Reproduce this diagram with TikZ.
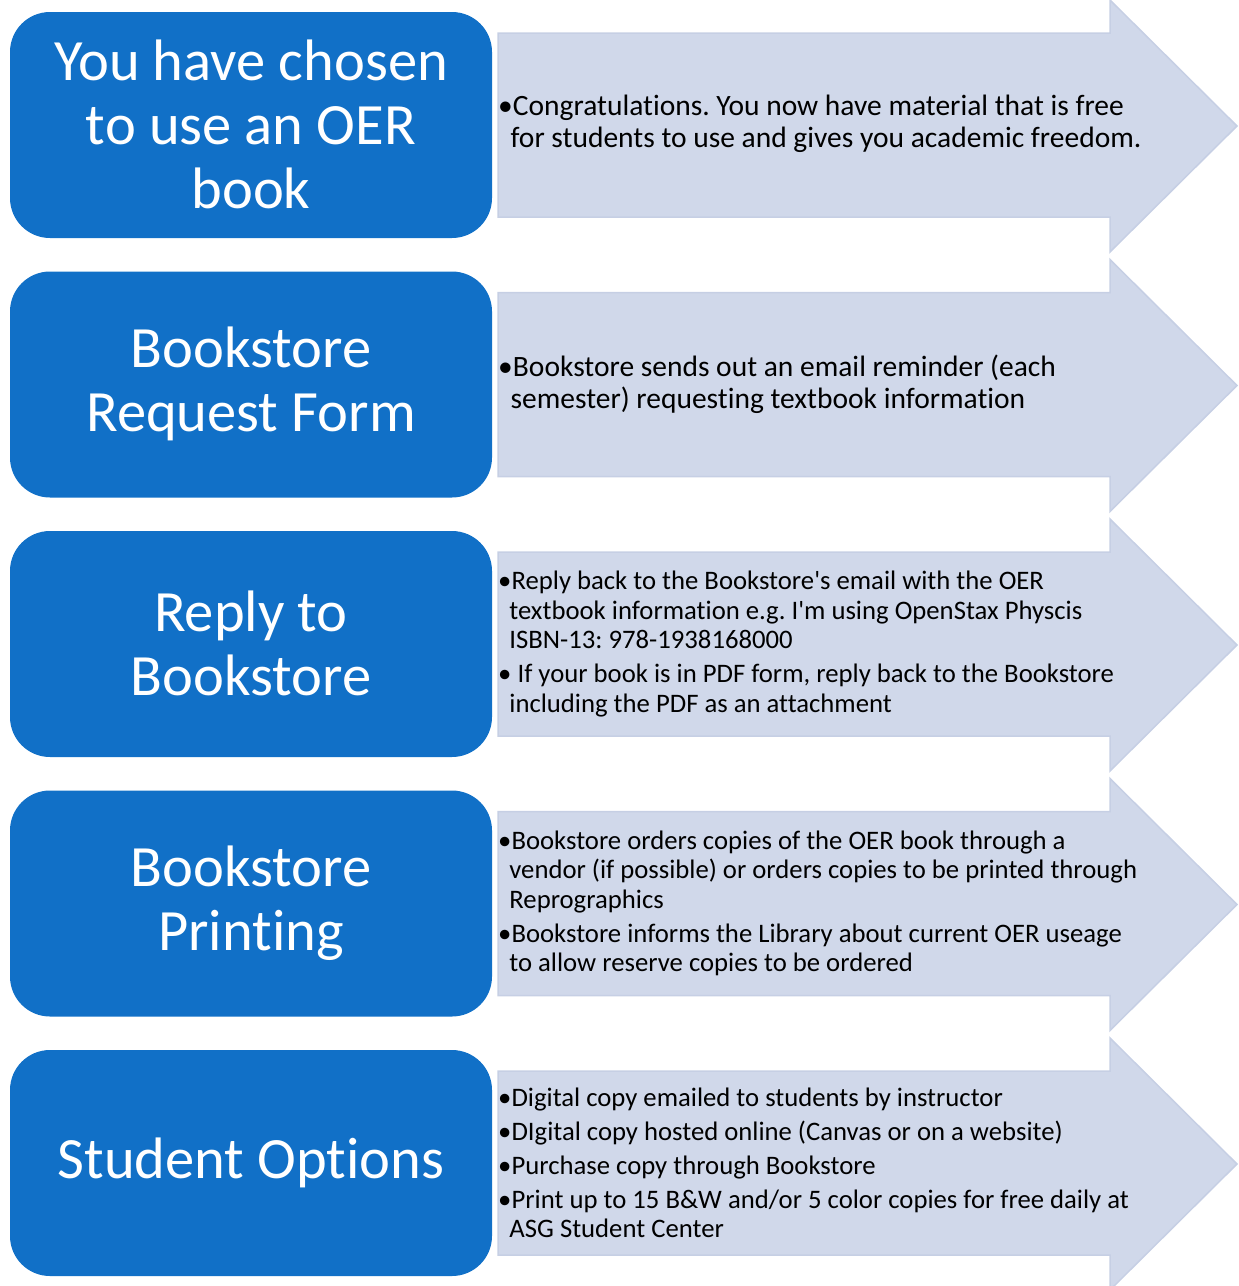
\documentclass[tikz,border=0pt]{standalone}
\usepackage{fontspec}
\setmainfont{Carlito}[Ligatures={TeX,NoCommon}]
\usepackage{tikz}
\usetikzlibrary{positioning}

\definecolor{boxblue}{RGB}{17,112,199}
\definecolor{arrowfill}{RGB}{208,216,234}
\definecolor{arrowline}{RGB}{198,207,228}

\newcommand{\bul}{\makebox[0.5em][l]{\textbullet}}
\newcommand{\ind}{\hspace*{0.42em}}
\frenchspacing

\begin{document}
\begin{tikzpicture}[x=1pt, y=-1pt,
  titlebox/.style={text=white, align=center, font=\fontsize{58.5}{64}\selectfont},
  infotext/.style={anchor=west, align=left, inner sep=0pt, font=\fontsize{26.7}{29.5}\selectfont},
  bigtext/.style={infotext, font=\fontsize{29.5}{32}\selectfont}]

\useasboundingbox (0,0) rectangle (1239,1286);

% arrows and blue boxes, one row each
\foreach \r in {0, 259.5, 519, 778.5, 1038}
{
\begin{scope}[shift={(0,\r)}]
\filldraw[fill=arrowfill, draw=arrowline, line width=1.5pt] (498,33) -- (1110,33) -- (1110,0) -- (1237,126) -- (1110,252) -- (1110,217) -- (498,217) -- cycle;
\fill[boxblue, rounded corners=40pt] (10,12) rectangle (492,238);
\end{scope}
}

% titles
\node[titlebox] (t1) at (251,124) {You have chosen\\to use an OER\\book};
\node[titlebox] (t2) at (251,384) {Bookstore\\Request Form};
\node[titlebox] (t3) at (251,643) {Reply to\\Bookstore};
\node[titlebox] (t4) at (251,903) {Bookstore\\Printing};
\node[titlebox] (t5) at (251,1163) {Student Options};

% bullet texts
\node[bigtext] (i1) at (498,124) {\bul Congratulations. You now have material that is free\\\ind for students to use and gives you academic freedom.};
\node[bigtext] (i2) at (498,384) {\bul Bookstore sends out an email reminder (each\\\ind semester) requesting textbook information};
\node[infotext] (i3) at (498,644) {\bul Reply back to the Bookstore\textquotesingle s email with the OER\\\ind textbook information e.g. I\textquotesingle m using OpenStax Physcis\\\ind ISBN-13: 978-1938168000\\[4.5pt]\bul\ If your book is in PDF form, reply back to the Bookstore\\\ind including the PDF as an attachment};
\node[infotext] (i4) at (498,903.5) {\bul Bookstore orders copies of the OER book through a\\\ind vendor (if possible) or orders copies to be printed through\\\ind Reprographics\\[4.5pt]\bul Bookstore informs the Library about current OER useage\\\ind to allow reserve copies to be ordered};
\node[infotext] (i5) at (498,1163) {\bul Digital copy emailed to students by instructor\\[4.5pt]\bul DIgital copy hosted online (Canvas or on a website)\\[4.5pt]\bul Purchase copy through Bookstore\\[4.5pt]\bul Print up to 15 B\&W and/or 5 color copies for free daily at\\\ind ASG Student Center};

\end{tikzpicture}
\end{document}
